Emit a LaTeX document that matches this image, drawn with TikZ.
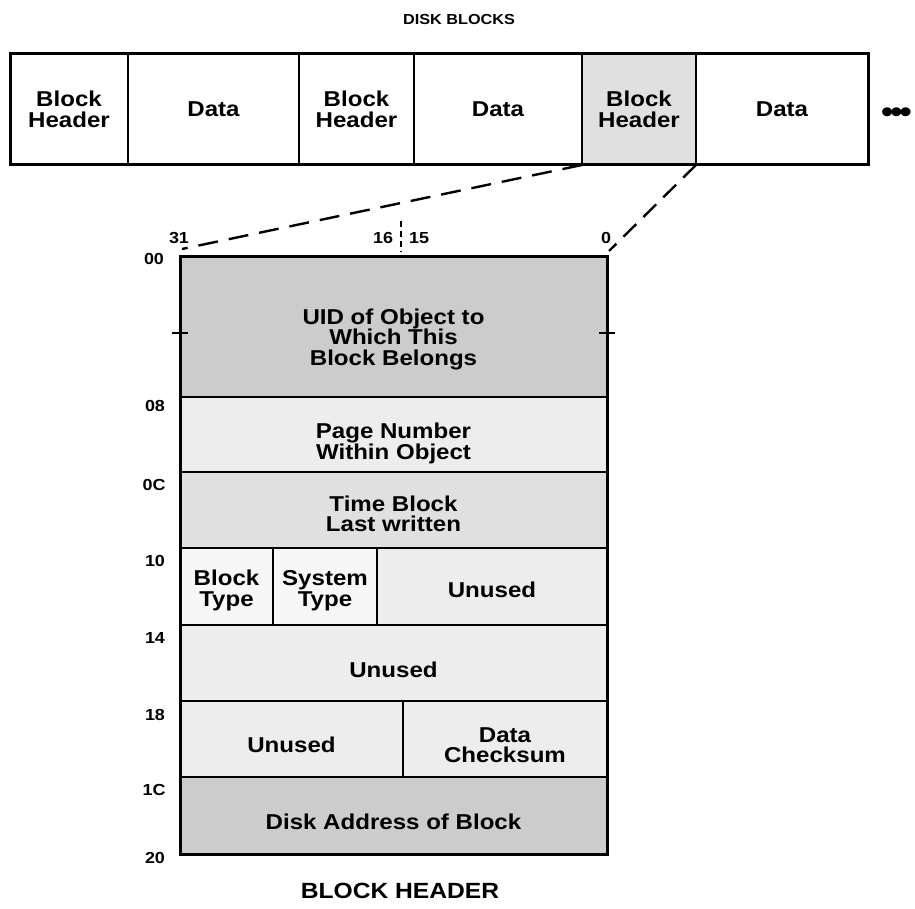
\documentclass[tikz,border=0pt]{standalone}
\usepackage{fontspec}
\setmainfont{Liberation Sans}[FakeStretch=1.12]
\newcommand\fldfont{\fontsize{21.5}{20.5}\selectfont\bfseries}
\newcommand\lblfont{\fontsize{16}{16}\selectfont\bfseries}
\begin{document}
\begin{tikzpicture}[x=1pt,y=-1pt,
  fld/.style={draw, line width=1.8pt, anchor=north west, inner sep=0pt, outer sep=0pt},
  txt/.style={inner sep=0pt, align=center, font=\fldfont},
  lbl/.style={inner sep=0pt, font=\lblfont},
  outer/.style={draw, line width=3pt},
  dashconn/.style={line width=2.4pt, dash pattern=on 20pt off 11pt},
  dense/.style={fill=black!20},
  medium/.style={fill=black!12},
  light/.style={fill=black!7},
  faint/.style={fill=black!3}]
\useasboundingbox (0,0) rectangle (915,909);

% title
\node[inner sep=0pt, font=\fontsize{14.5}{14.5}\selectfont\bfseries] (t1) at (459,20) {DISK BLOCKS};

% top row of disk blocks
\node[fld, minimum width=118pt, minimum height=111pt] (bh1) at (10,54) {};
\node[fld, minimum width=171pt, minimum height=111pt] (d1) at (128,54) {};
\node[fld, minimum width=115pt, minimum height=111pt] (bh2) at (299,54) {};
\node[fld, minimum width=168pt, minimum height=111pt] (d2) at (414,54) {};
\node[fld, medium, minimum width=114pt, minimum height=111pt] (bh3) at (582,54) {};
\node[fld, minimum width=172pt, minimum height=111pt] (d3) at (696,54) {};
\draw[outer] (bh1.north west) rectangle (d3.south east);
\node[txt] (bh1t) at (bh1.center) {Block\\Header};
\node[txt] (d1t) at (d1.center) {Data};
\node[txt] (bh2t) at (bh2.center) {Block\\Header};
\node[txt] (d2t) at (d2.center) {Data};
\node[txt] (bh3t) at (bh3.center) {Block\\Header};
\node[txt] (d3t) at (d3.center) {Data};
\node[inner sep=0pt, font=\fontsize{31}{31}\selectfont\bfseries, anchor=base west] (dots) at (881,123) {•\kern-3pt•\kern-3pt•};

% block header detail
\node[fld, dense, minimum width=427pt, minimum height=140pt] (uid) at (180,257) {};
\node[fld, light, minimum width=427pt, minimum height=75pt] (page) at (180,397) {};
\node[fld, medium, minimum width=427pt, minimum height=76pt] (time) at (180,472) {};
\node[fld, faint, minimum width=93pt, minimum height=77pt] (btype) at (180,548) {};
\node[fld, faint, minimum width=104pt, minimum height=77pt] (stype) at (273,548) {};
\node[fld, light, minimum width=230pt, minimum height=77pt] (un1) at (377,548) {};
\node[fld, light, minimum width=427pt, minimum height=76pt] (un2) at (180,625) {};
\node[fld, light, minimum width=223pt, minimum height=76pt] (un3) at (180,701) {};
\node[fld, light, minimum width=204pt, minimum height=76pt] (cks) at (403,701) {};
\node[fld, dense, minimum width=427pt, minimum height=77pt] (addr) at (180,777) {};
\draw[outer] (uid.north west) rectangle (addr.south east);

\node[txt] (uidt) at ([yshift=-12pt]uid.center) {UID of Object to\\Which This\\Block Belongs};
\node[txt] (paget) at ([yshift=-9pt]page.center) {Page Number\\Within Object};
\node[txt] (timet) at ([yshift=-4pt]time.center) {Time Block\\Last written};
\node[txt] (btypet) at ([yshift=-4pt]btype.center) {Block\\Type};
\node[txt] (stypet) at ([yshift=-4pt]stype.center) {System\\Type};
\node[txt] (un1t) at ([yshift=-3pt]un1.center) {Unused};
\node[txt] (un2t) at ([yshift=-7pt]un2.center) {Unused};
\node[txt] (un3t) at ([yshift=-6pt]un3.center) {Unused};
\node[txt] (ckst) at ([yshift=-6pt]cks.center) {Data\\Checksum};
\node[txt] (addrt) at ([yshift=-6pt]addr.center) {Disk Address of Block};

% side ticks at 04
\draw[line width=2pt] (172,333) -- (188,333);
\draw[line width=2pt] (599,333) -- (615,333);

% bit numbers
\node[lbl] (b31) at (179,238) {31};
\node[lbl] (b16) at (383,238) {16};
\node[lbl] (b15) at (419,238) {15};
\node[lbl] (b0) at (606,238) {0};
\draw[line width=1.6pt, dash pattern=on 6pt off 4pt] (401,221) -- (401,252);

% offsets
\node[lbl] (o00) at (154,259) {00};
\node[lbl] (o08) at (155,406) {08};
\node[lbl] (o0C) at (154,485) {0C};
\node[lbl] (o10) at (155,561) {10};
\node[lbl] (o14) at (155,638) {14};
\node[lbl] (o18) at (155,715) {18};
\node[lbl] (o1C) at (154,790) {1C};
\node[lbl] (o20) at (155,858) {20};

% dashed connectors
\coordinate (cl) at (182,249);
\coordinate (cr) at (609,251);
\draw[dashconn] (bh3.south west) -- (cl);
\draw[dashconn, dash pattern=on 18pt off 10pt] (bh3.south east) -- (cr);

% caption
\node[inner sep=0pt, font=\fontsize{22}{22}\selectfont\bfseries] (t2) at (400,891) {BLOCK HEADER};
\end{tikzpicture}
\end{document}
